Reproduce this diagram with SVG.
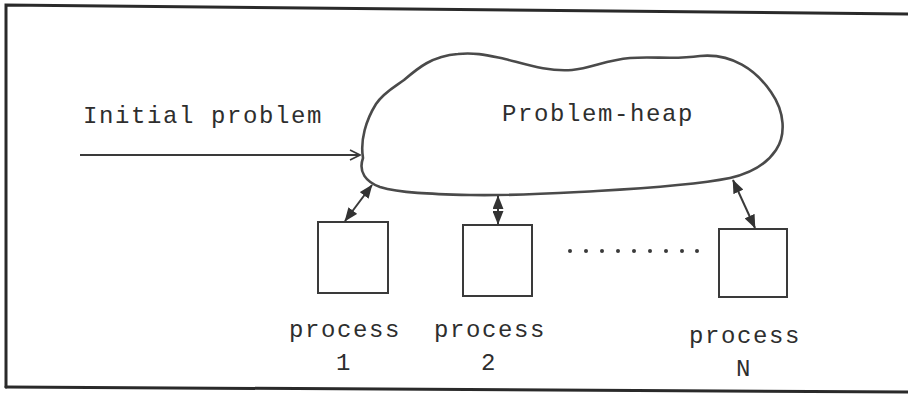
<svg xmlns="http://www.w3.org/2000/svg" width="908" height="394" viewBox="0 0 908 394">
  <style>
    .frame { fill: none; stroke: #2a2a2a; stroke-width: 3; stroke-linecap: round; }
    .heap { fill: none; stroke: #4a4a4a; stroke-width: 2.6; stroke-linejoin: round; }
    .box { fill: none; stroke: #3a3a3a; stroke-width: 2; }
    .link { stroke: #3a3a3a; stroke-width: 2; fill: none; }
    .label { font-family: "Liberation Mono", "Courier New", monospace; font-size: 24px; letter-spacing: 1.6px; fill: #2e2e2e; }
    .mid { text-anchor: middle; }
    .dot { fill: #3a3a3a; }
  </style>
  <defs>
    <marker id="tri" viewBox="0 0 10 8" refX="9.5" refY="4" markerWidth="14" markerHeight="11" orient="auto-start-reverse" markerUnits="userSpaceOnUse">
      <path d="M0,0 L10,4 L0,8 Z" fill="#333"/>
    </marker>
    <marker id="open" viewBox="0 0 12 12" refX="11" refY="6" markerWidth="12" markerHeight="12" orient="auto" markerUnits="userSpaceOnUse">
      <path d="M1,1 L11,6 L1,11" fill="none" stroke="#3a3a3a" stroke-width="1.6"/>
    </marker>
  </defs>

  <rect width="908" height="394" fill="#fff"/>

  <!-- page frame -->
  <path class="frame" d="M6,387 L6,5 L908,14"/>
  <path class="frame" d="M6,387 L908,392"/>

  <!-- shared problem store -->
  <g id="problem-heap">
    <path class="heap" d="M363,158 C360,140 366,120 376,104 C384,92 396,86 404,80 C418,68 432,56 458,54 C476,52 490,56 505,59 C525,64 548,72 572,70 C592,68 606,60 630,58 C655,56 672,60 700,56 C732,53 756,70 771,92 C785,112 786,135 776,150 C766,165 748,174 730,178 C700,184 650,188 597,191 C540,194 510,196 470,195 C430,194 400,193 380,187 C366,182 358,172 363,158 Z"/>
    <text class="label" x="502" y="121">Problem-heap</text>
  </g>

  <g id="initial-problem">
    <text class="label" x="83" y="123">Initial problem</text>
  </g>

  <g id="process-1">
    <rect class="box" x="318" y="222" width="70" height="71"/>
    <text class="label mid" x="345" y="337">process</text>
    <text class="label mid" x="344" y="370">1</text>
  </g>

  <g id="process-2">
    <rect class="box" x="463" y="225" width="69" height="71"/>
    <text class="label mid" x="490" y="337">process</text>
    <text class="label mid" x="489" y="370">2</text>
  </g>

  <g id="process-n">
    <rect class="box" x="719" y="229" width="68" height="68"/>
    <text class="label mid" x="745" y="343">process</text>
    <text class="label mid" x="744" y="376">N</text>
  </g>

  <!-- ellipsis between process 2 and process N -->
  <g id="ellipsis">
    <circle class="dot" cx="570" cy="251" r="2"/>
    <circle class="dot" cx="586" cy="251" r="2"/>
    <circle class="dot" cx="602" cy="251" r="2"/>
    <circle class="dot" cx="618" cy="251" r="2"/>
    <circle class="dot" cx="634" cy="251" r="2"/>
    <circle class="dot" cx="650" cy="251" r="2"/>
    <circle class="dot" cx="666" cy="251" r="2"/>
    <circle class="dot" cx="682" cy="251" r="2"/>
    <circle class="dot" cx="697" cy="251" r="2"/>
  </g>

  <g id="connectors">
    <line class="link" x1="80" y1="155" x2="360" y2="155" marker-end="url(#open)"/>
    <line class="link" x1="372" y1="185" x2="345" y2="221" marker-start="url(#tri)" marker-end="url(#tri)"/>
    <line class="link" x1="498" y1="196" x2="498" y2="224" marker-start="url(#tri)" marker-end="url(#tri)"/>
    <line class="link" x1="733" y1="180" x2="755" y2="228" marker-start="url(#tri)" marker-end="url(#tri)"/>
  </g>
</svg>
